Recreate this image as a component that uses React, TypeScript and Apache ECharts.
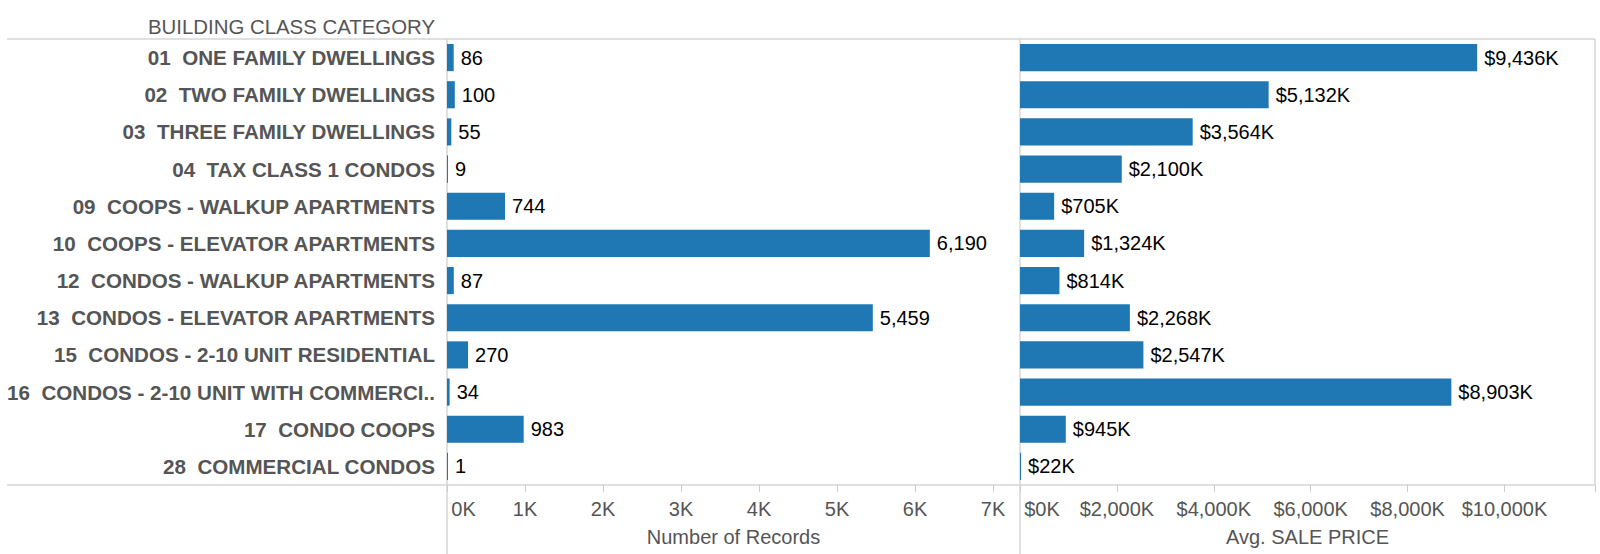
import React, { useEffect, useRef } from "react";
import * as echarts from "echarts";

const categories = [
  "01  ONE FAMILY DWELLINGS",
  "02  TWO FAMILY DWELLINGS",
  "03  THREE FAMILY DWELLINGS",
  "04  TAX CLASS 1 CONDOS",
  "09  COOPS - WALKUP APARTMENTS",
  "10  COOPS - ELEVATOR APARTMENTS",
  "12  CONDOS - WALKUP APARTMENTS",
  "13  CONDOS - ELEVATOR APARTMENTS",
  "15  CONDOS - 2-10 UNIT RESIDENTIAL",
  "16  CONDOS - 2-10 UNIT WITH COMMERCI..",
  "17  CONDO COOPS",
  "28  COMMERCIAL CONDOS",
];
const recordCounts = [86, 100, 55, 9, 744, 6190, 87, 5459, 270, 34, 983, 1];
const avgSalePriceK = [9436, 5132, 3564, 2100, 705, 1324, 814, 2268, 2547, 8903, 945, 22];

const headerTitle = "BUILDING CLASS CATEGORY";
const leftAxisTitle = "Number of Records";
const rightAxisTitle = "Avg. SALE PRICE";

const FONT = '"Liberation Sans", Arial, Helvetica, sans-serif';
const GRAY_TEXT = "#555555";
const LINE = "#d6d6d6";
const BLUE = "#1f77b4";

const fmtThousands = (v: number) => Math.round(v).toLocaleString("en-US");

export default function App() {
  const ref = useRef<HTMLDivElement>(null);
  useEffect(() => {
    document.body.style.margin = "0";
    if (!ref.current) return;
    const chart = echarts.init(ref.current, null, { renderer: "svg" });

    const top = 39;
    const bottom = 485;
    const x0 = 447;
    const x1 = 1020;
    const x2 = 1595;

    const tickLabelStyle = {
      color: GRAY_TEXT,
      fontSize: 20,
      fontFamily: FONT,
      margin: 14,
    };

    chart.setOption({
      animation: false,
      backgroundColor: "#ffffff",
      textStyle: { fontFamily: FONT },
      grid: [
        { left: x0, top, width: x1 - x0, height: bottom - top },
        { left: x1, top, width: x2 - x1, height: bottom - top },
      ],
      xAxis: [
        {
          gridIndex: 0,
          type: "value",
          min: 0,
          max: 7346,
          interval: 1000,
          splitLine: { show: false },
          axisLine: { show: false },
          axisTick: { show: true, length: 7, lineStyle: { color: "#cccccc" } },
          axisLabel: {
            ...tickLabelStyle,
            formatter: (v: number) => {
              if (v % 1000 !== 0) return "";
              if (v === 0) return "{first|0K}";
              return v / 1000 + "K";
            },
            rich: {
              first: { padding: [0, 0, 0, 33], color: GRAY_TEXT, fontSize: 20, fontFamily: FONT },
            },
          },
          name: leftAxisTitle,
          nameLocation: "middle",
          nameGap: 42,
          nameTextStyle: { color: GRAY_TEXT, fontSize: 20, fontFamily: FONT },
        },
        {
          gridIndex: 1,
          type: "value",
          min: 0,
          max: 11868,
          interval: 2000,
          splitLine: { show: false },
          axisLine: { show: false },
          axisTick: { show: true, length: 7, lineStyle: { color: "#cccccc" } },
          axisLabel: {
            ...tickLabelStyle,
            formatter: (v: number) => {
              if (v % 2000 !== 0) return "";
              if (v === 0) return "{first|$0K}";
              return "$" + fmtThousands(v) + "K";
            },
            rich: {
              first: { padding: [0, 0, 0, 44], color: GRAY_TEXT, fontSize: 20, fontFamily: FONT },
            },
          },
          name: rightAxisTitle,
          nameLocation: "middle",
          nameGap: 42,
          nameTextStyle: { color: GRAY_TEXT, fontSize: 20, fontFamily: FONT },
        },
      ],
      yAxis: [
        {
          gridIndex: 0,
          type: "category",
          data: categories,
          inverse: true,
          axisLine: { show: false },
          axisTick: { show: false },
          axisLabel: {
            color: GRAY_TEXT,
            fontSize: 20.6,
            fontWeight: "bold",
            fontFamily: FONT,
            margin: 12,
          },
        },
        {
          gridIndex: 1,
          type: "category",
          data: categories,
          inverse: true,
          axisLine: { show: false },
          axisTick: { show: false },
          axisLabel: { show: false },
        },
      ],
      series: [
        {
          type: "bar",
          xAxisIndex: 0,
          yAxisIndex: 0,
          data: recordCounts,
          barCategoryGap: "27%",
          barMinHeight: 1,
          itemStyle: { color: BLUE },
          label: {
            show: true,
            position: "right",
            distance: 7,
            color: "#000000",
            fontSize: 20,
            fontFamily: FONT,
            formatter: (p: any) => fmtThousands(p.value),
          },
        },
        {
          type: "bar",
          xAxisIndex: 1,
          yAxisIndex: 1,
          data: avgSalePriceK,
          barCategoryGap: "27%",
          barMinHeight: 1,
          itemStyle: { color: BLUE },
          label: {
            show: true,
            position: "right",
            distance: 7,
            color: "#000000",
            fontSize: 20,
            fontFamily: FONT,
            formatter: (p: any) => "$" + fmtThousands(p.value) + "K",
          },
        },
      ],
      graphic: [
        {
          type: "text",
          x: 435,
          y: 27,
          style: {
            text: headerTitle,
            fill: GRAY_TEXT,
            fontSize: 20.4,
            fontFamily: FONT,
            align: "right",
            verticalAlign: "middle",
          },
        },
        { type: "line", shape: { x1: 7, y1: top, x2: x2, y2: top }, style: { stroke: LINE, lineWidth: 1.5 } },
        { type: "line", shape: { x1: 7, y1: bottom, x2: x2, y2: bottom }, style: { stroke: LINE, lineWidth: 1.5 } },
        { type: "line", shape: { x1: x0, y1: top, x2: x0, y2: 554 }, style: { stroke: LINE, lineWidth: 1.5 } },
        { type: "line", shape: { x1: x1, y1: top, x2: x1, y2: 554 }, style: { stroke: LINE, lineWidth: 1.5 } },
        { type: "line", shape: { x1: x2, y1: top, x2: x2, y2: bottom }, style: { stroke: LINE, lineWidth: 1.5 } },
      ],
    });
    return () => chart.dispose();
  }, []);
  return <div ref={ref} style={{ width: 1600, height: 554 }} />;
}
